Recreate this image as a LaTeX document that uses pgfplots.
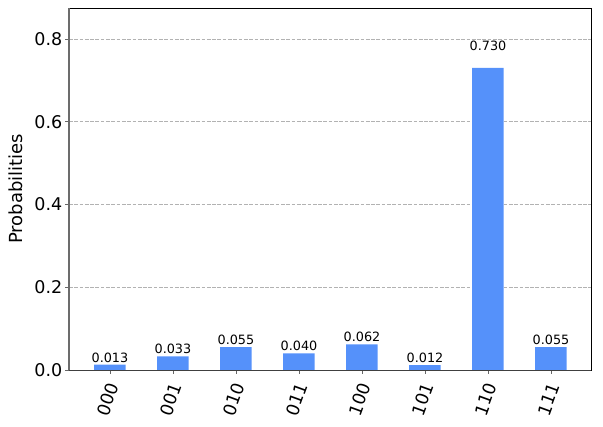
\documentclass[border=0pt]{standalone}
\usepackage{fontspec}
\setmainfont{DejaVu Sans}
\usepackage{pgfplots}
\pgfplotsset{compat=1.18}
\usepackage{pgfplotstable}
\definecolor{barblue}{RGB}{85,145,250}
\definecolor{gridgray}{RGB}{178,178,178}
\pgfplotstableread{
x y
0 0.013
1 0.033
2 0.055
3 0.040
4 0.062
5 0.012
6 0.730
7 0.055
}\probs
\begin{document}
\begin{tikzpicture}
\path[use as bounding box] (-69bp,-57bp) rectangle (534bp,370bp);
\begin{axis}[
  at={(0,0)}, anchor=south west,
  scale only axis,
  width=522bp, height=362bp,
  xmin=-0.65, xmax=7.635,
  ymin=0, ymax=0.875,
  xtick={0,1,2,3,4,5,6,7},
  xticklabels={000,001,010,011,100,101,110,111},
  ytick={0,0.2,0.4,0.6,0.8},
  yticklabel style={/pgf/number format/fixed, /pgf/number format/precision=1, /pgf/number format/zerofill, anchor=east, inner sep=0pt, xshift=-3bp},
  /pgf/number format/assume math mode=true,
  tick label style={font=\fontsize{17.5bp}{20bp}\selectfont},
  xticklabel style={xshift=3.6bp, yshift=-10bp, rotate=70, anchor=east, inner sep=0pt},
  tick align=outside,
  major tick length=3.5bp,
  xtick pos=bottom, ytick pos=left,
  tick style={gray!80!black, line width=0.8bp},
  ymajorgrids,
  grid style={gridgray, dash pattern=on 3.7bp off 1.6bp, line width=0.8bp},
  axis line style={black, line width=0.8bp},
  ylabel={Probabilities},
  ylabel style={at={(axis description cs:0,0.5)}, anchor=center, yshift=53bp, inner sep=0pt, font=\fontsize{18bp}{20bp}\selectfont},
  nodes near coords style={font=\fontsize{12.8bp}{14bp}\selectfont, anchor=base, inner sep=0pt, yshift=2bp},
  clip=false,
]
\addplot[ybar, bar width=31.5bp, fill=barblue, draw=none] table[x=x, y=y] {\probs};
\addplot[draw=none, mark=none, nodes near coords={\pgfmathprintnumber[fixed, precision=3, zerofill]{\pgfplotspointmeta}}, point meta=explicit] table[x=x, y expr=\thisrow{y}*1.05, meta=y] {\probs};
\draw[gray!85!black, line width=1.2bp] (rel axis cs:0,0) -- (rel axis cs:0,1);
\draw[black!75, line width=1bp] (rel axis cs:0,0) -- (rel axis cs:1,0);
\end{axis}
\end{tikzpicture}
\end{document}
